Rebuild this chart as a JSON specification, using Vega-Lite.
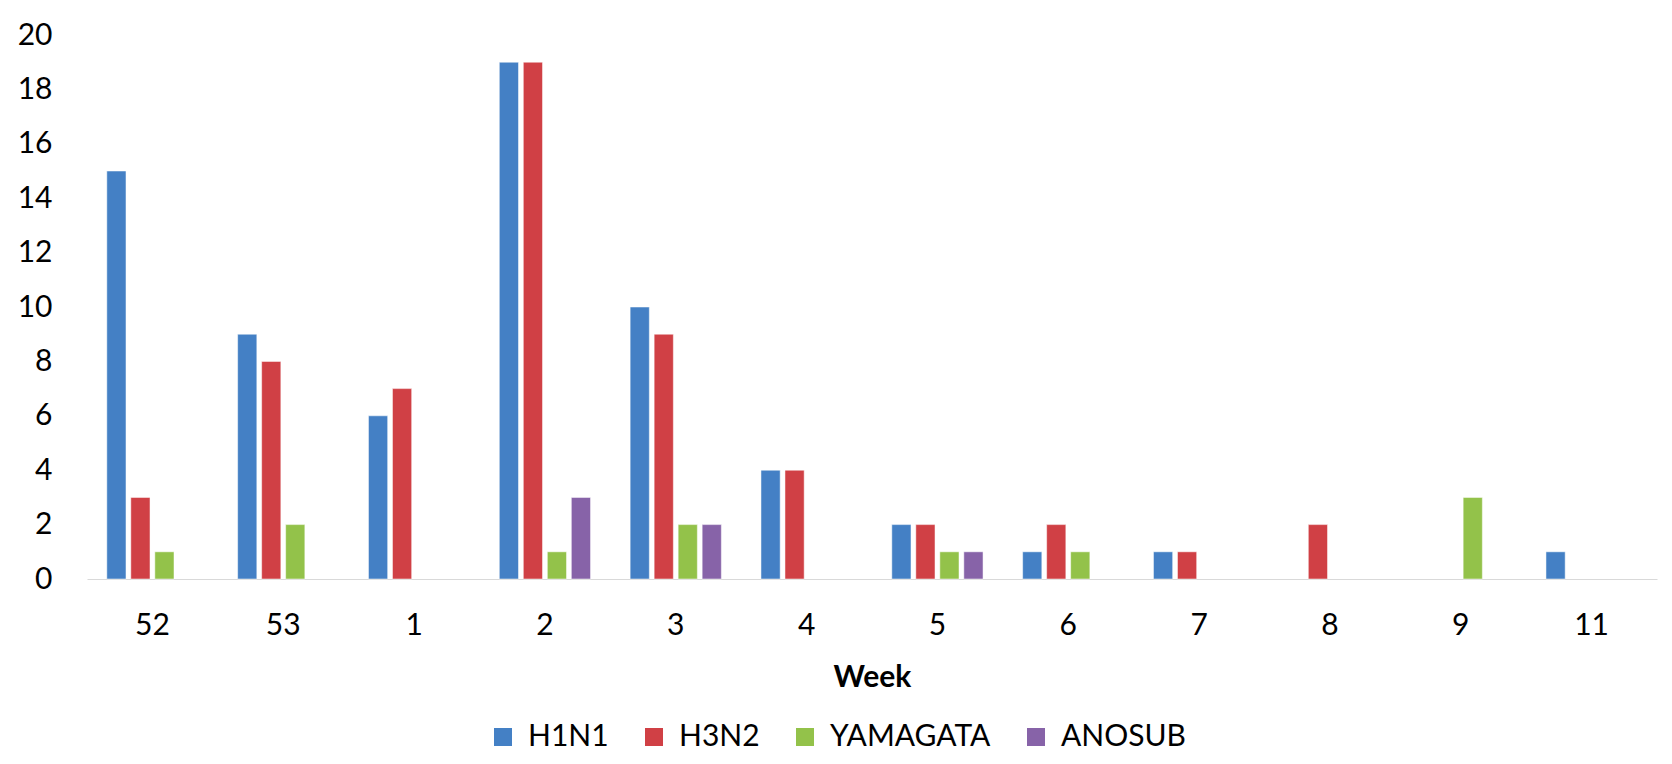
{
  "$schema": "https://vega.github.io/schema/vega-lite/v6.json",
  "autosize": "none",
  "width": 1570,
  "height": 544,
  "padding": {"left": 87, "top": 35, "right": 15, "bottom": 185},
  "background": "#ffffff",
  "config": {
    "view": {"stroke": null},
    "font": "Lato"
  },
  "data": {
    "values": [
      {"week": "52", "strain": "H1N1", "count": 15},
      {"week": "52", "strain": "H3N2", "count": 3},
      {"week": "52", "strain": "YAMAGATA", "count": 1},
      {"week": "53", "strain": "H1N1", "count": 9},
      {"week": "53", "strain": "H3N2", "count": 8},
      {"week": "53", "strain": "YAMAGATA", "count": 2},
      {"week": "1", "strain": "H1N1", "count": 6},
      {"week": "1", "strain": "H3N2", "count": 7},
      {"week": "2", "strain": "H1N1", "count": 19},
      {"week": "2", "strain": "H3N2", "count": 19},
      {"week": "2", "strain": "YAMAGATA", "count": 1},
      {"week": "2", "strain": "ANOSUB", "count": 3},
      {"week": "3", "strain": "H1N1", "count": 10},
      {"week": "3", "strain": "H3N2", "count": 9},
      {"week": "3", "strain": "YAMAGATA", "count": 2},
      {"week": "3", "strain": "ANOSUB", "count": 2},
      {"week": "4", "strain": "H1N1", "count": 4},
      {"week": "4", "strain": "H3N2", "count": 4},
      {"week": "5", "strain": "H1N1", "count": 2},
      {"week": "5", "strain": "H3N2", "count": 2},
      {"week": "5", "strain": "YAMAGATA", "count": 1},
      {"week": "5", "strain": "ANOSUB", "count": 1},
      {"week": "6", "strain": "H1N1", "count": 1},
      {"week": "6", "strain": "H3N2", "count": 2},
      {"week": "6", "strain": "YAMAGATA", "count": 1},
      {"week": "7", "strain": "H1N1", "count": 1},
      {"week": "7", "strain": "H3N2", "count": 1},
      {"week": "8", "strain": "H3N2", "count": 2},
      {"week": "9", "strain": "YAMAGATA", "count": 3},
      {"week": "11", "strain": "H1N1", "count": 1}
    ]
  },
  "mark": {"type": "bar", "stroke": "#ffffff", "strokeOpacity": 0.5, "strokeWidth": 1},
  "encoding": {
    "x": {
      "field": "week",
      "type": "nominal",
      "sort": ["52", "53", "1", "2", "3", "4", "5", "6", "7", "8", "9", "11"],
      "scale": {"paddingInner": 0.266, "paddingOuter": 0.133},
      "axis": {
        "title": "Week",
        "titleFont": "Lato",
        "titleFontSize": 30,
        "titleFontWeight": "bold",
        "titleColor": "#000000",
        "titlePadding": 22,
        "labelAngle": 0,
        "labelFont": "Lato",
        "labelFontSize": 30,
        "labelColor": "#000000",
        "labelPadding": 31,
        "labelBaseline": "top",
        "ticks": false,
        "tickSize": 0,
        "domainColor": "#d9d9d9",
        "domainWidth": 1
      }
    },
    "xOffset": {
      "field": "strain",
      "type": "nominal",
      "scale": {"domain": ["H1N1", "H3N2", "YAMAGATA", "ANOSUB"], "paddingInner": 0.2, "paddingOuter": 0.1}
    },
    "y": {
      "field": "count",
      "type": "quantitative",
      "scale": {"domain": [0, 20], "nice": false},
      "axis": {
        "title": null,
        "values": [0, 2, 4, 6, 8, 10, 12, 14, 16, 18, 20],
        "grid": false,
        "domain": false,
        "ticks": false,
        "tickSize": 0,
        "labelFont": "Lato",
        "labelFontSize": 30,
        "labelColor": "#000000",
        "labelPadding": 35
      }
    },
    "color": {
      "field": "strain",
      "type": "nominal",
      "scale": {
        "domain": ["H1N1", "H3N2", "YAMAGATA", "ANOSUB"],
        "range": ["#4480c5", "#d04045", "#93c24a", "#8763a8"]
      },
      "legend": {
        "title": null,
        "orient": "none",
        "legendX": 401,
        "legendY": 687,
        "direction": "horizontal",
        "symbolType": "square",
        "symbolSize": 324,
        "symbolStrokeWidth": 0,
        "labelFont": "Lato",
        "labelFontSize": 30,
        "labelColor": "#000000",
        "labelLimit": 0,
        "labelOffset": 10,
        "columnPadding": 30
      }
    }
  }
}
